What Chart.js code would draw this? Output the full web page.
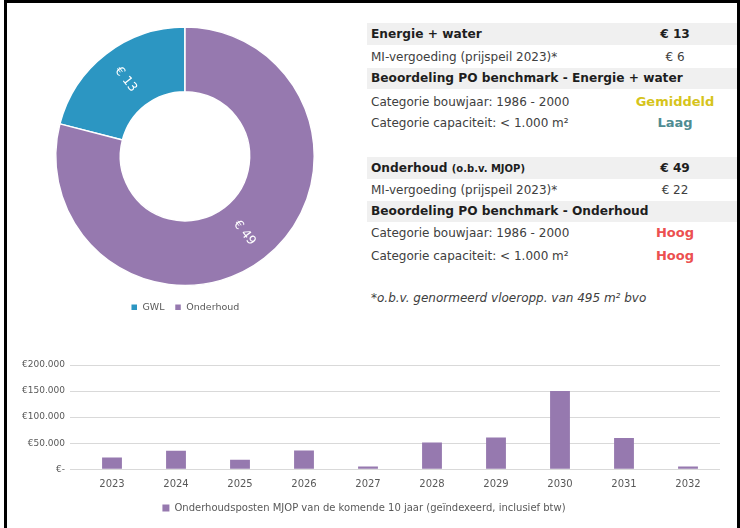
<!DOCTYPE html>
<html>
<head>
<meta charset="utf-8">
<script src="https://cdn.jsdelivr.net/npm/chart.js@4.4.0/dist/chart.umd.min.js"></script>
<style>
  body { margin: 0; width: 740px; height: 528px; background: #fff; position: relative; overflow: hidden;
         font-family: "DejaVu Sans", sans-serif; color: #404040; }
  .frame { position: absolute; left: 4px; top: 0; width: 736px; height: 560px; border: 3px solid #000;
           border-bottom: none; box-sizing: border-box; }
  .row { position: absolute; left: 367px; width: 370px; font-size: 12px; }
  .row .lbl { position: absolute; left: 4px; white-space: nowrap; }
  .row .val { position: absolute; left: 620px; width: 110px; text-align: center; margin-left: -367px; }
  .head { background: #f0f0f0; font-weight: bold; color: #1e1e1e; font-size: 12.2px; }
  .small { font-size: 10px; }
  .note { position: absolute; left: 371px; top: 291px; font-size: 12px; font-style: italic; color: #404040; }
  #donut { position: absolute; left: 40px; top: 20px; }
  #bars { position: absolute; left: 8px; top: 340px; }
</style>
</head>
<body>
<div class="frame"></div>
<canvas id="donut" width="290" height="302"></canvas>

<div class="row head" style="top:23px;height:22px;line-height:22px"><span class="lbl">Energie + water</span><span class="val">€ 13</span></div>
<div class="row" style="top:47px;height:20px;line-height:20px"><span class="lbl">MI-vergoeding (prijspeil 2023)*</span><span class="val">€ 6</span></div>
<div class="row head" style="top:68px;height:21px;line-height:21px"><span class="lbl">Beoordeling PO benchmark - Energie + water</span></div>
<div class="row" style="top:92px;height:20px;line-height:20px"><span class="lbl">Categorie bouwjaar: 1986 - 2000</span><span class="val" style="font-weight:bold;color:#d6c41c;font-size:13px">Gemiddeld</span></div>
<div class="row" style="top:113px;height:20px;line-height:20px"><span class="lbl">Categorie capaciteit: &lt; 1.000 m²</span><span class="val" style="font-weight:bold;color:#4f8c92;font-size:13px">Laag</span></div>

<div class="row head" style="top:157px;height:22px;line-height:22px"><span class="lbl">Onderhoud <span class="small">(o.b.v. MJOP)</span></span><span class="val">€ 49</span></div>
<div class="row" style="top:180px;height:20px;line-height:20px"><span class="lbl">MI-vergoeding (prijspeil 2023)*</span><span class="val">€ 22</span></div>
<div class="row head" style="top:201px;height:21px;line-height:21px"><span class="lbl">Beoordeling PO benchmark - Onderhoud</span></div>
<div class="row" style="top:223px;height:20px;line-height:20px"><span class="lbl">Categorie bouwjaar: 1986 - 2000</span><span class="val" style="font-weight:bold;color:#ec5050;font-size:13px">Hoog</span></div>
<div class="row" style="top:246px;height:20px;line-height:20px"><span class="lbl">Categorie capaciteit: &lt; 1.000 m²</span><span class="val" style="font-weight:bold;color:#ec5050;font-size:13px">Hoog</span></div>
<div class="note">*o.b.v. genormeerd vloeropp. van 495 m² bvo</div>

<canvas id="bars" width="730" height="188"></canvas>

<script>
// doughnut data (per m²)
const kostLabels = ["GWL", "Onderhoud"];
const kostValues = [13, 49];
const kostColors = ["#2c96c2", "#9679af"];

// bar data
const years = ["2023", "2024", "2025", "2026", "2027", "2028", "2029", "2030", "2031", "2032"];
const mjopValues = [22500, 35500, 18500, 36000, 5500, 51500, 61000, 150000, 60000, 5500];
const yTicks = [0, 50000, 100000, 150000, 200000];

const grey = "#595959";
const total = kostValues.reduce((a, b) => a + b, 0);

// labels on the ring, rotated along the radius
const ringLabels = {
  id: "ringLabels",
  afterDatasetsDraw(chart) {
    const ctx = chart.ctx;
    chart.getDatasetMeta(0).data.forEach((arc, i) => {
      const p = arc.getProps(["x", "y", "startAngle", "endAngle", "innerRadius", "outerRadius"], true);
      const mid = (p.startAngle + p.endAngle) / 2;
      const r = (p.innerRadius + p.outerRadius) / 2;
      let rot = mid;
      while (rot > Math.PI / 2) rot -= Math.PI;
      while (rot < -Math.PI / 2) rot += Math.PI;
      ctx.save();
      ctx.translate(p.x + Math.cos(mid) * r, p.y + Math.sin(mid) * r);
      ctx.rotate(rot);
      ctx.fillStyle = "#fff";
      ctx.font = "12.5px 'DejaVu Sans'";
      ctx.textAlign = "center";
      ctx.textBaseline = "middle";
      ctx.fillText("€ " + kostValues[i], 0, 0);
      ctx.restore();
    });
  }
};

new Chart(document.getElementById("donut"), {
  type: "doughnut",
  data: {
    labels: kostLabels,
    datasets: [{
      data: kostValues,
      backgroundColor: kostColors,
      borderColor: "#fff",
      borderWidth: 1.5,
    }],
  },
  options: {
    responsive: false,
    animation: false,
    cutout: "50%",
    rotation: -360 * kostValues[0] / total,
    layout: { padding: { left: 15, right: 15, top: 0, bottom: 0 } },
    plugins: {
      legend: {
        position: "bottom",
        labels: { boxWidth: 7, boxHeight: 7, padding: 10, color: grey, font: { family: "DejaVu Sans", size: 9.5 } },
      },
      tooltip: { enabled: false },
    },
  },
  plugins: [ringLabels],
});

function euro(v) {
  if (v === 0) return "€-";
  return "€" + String(v).replace(/\B(?=(\d{3})+(?!\d))/g, ".");
}

new Chart(document.getElementById("bars"), {
  type: "bar",
  data: {
    labels: years,
    datasets: [{
      label: "Onderhoudsposten MJOP van de komende 10 jaar (geïndexeerd, inclusief btw)",
      data: mjopValues,
      backgroundColor: "#9679af",
      categoryPercentage: 1,
      barPercentage: 0.31,
    }],
  },
  options: {
    responsive: false,
    animation: false,
    layout: { padding: { left: 0, right: 18, top: 25, bottom: 5 } },
    scales: {
      x: {
        grid: { display: false, drawTicks: false },
        border: { display: false },
        ticks: { color: grey, padding: 9, font: { family: "DejaVu Sans", size: 10 } },
        afterFit: (a) => { a.height = 27.7; },
      },
      y: {
        min: 0,
        max: 200000,
        afterBuildTicks: (a) => { a.ticks = yTicks.map((v) => ({ value: v })); },
        grid: { color: "#d9d9d9", lineWidth: 1, drawTicks: true, tickLength: 10 },
        border: { display: false },
        ticks: { color: grey, padding: 5, callback: euro, font: { family: "DejaVu Sans", size: 9 } },
        afterFit: (a) => { a.width = 72; },
      },
    },
    plugins: {
      legend: {
        position: "bottom",
        labels: { boxWidth: 7, boxHeight: 7, padding: 6, color: grey, font: { family: "DejaVu Sans", size: 10 } },
      },
      tooltip: { enabled: false },
    },
  },
});
</script>
</body>
</html>
